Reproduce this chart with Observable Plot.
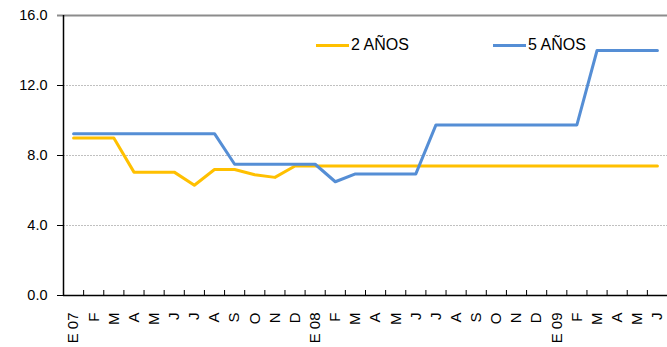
<!DOCTYPE html>
<html><head><meta charset="utf-8">
<script src="https://cdn.jsdelivr.net/npm/d3@7"></script>
<script src="https://cdn.jsdelivr.net/npm/@observablehq/plot@0.6"></script>
<style>
body{margin:0;background:#fff;}
#wrap{position:relative;width:667px;height:347px;font-family:"Liberation Sans",Arial,sans-serif;}
#wrap svg{display:block;}
.legend{position:absolute;top:36px;display:flex;align-items:center;font-size:16px;color:#000;font-family:"Liberation Sans",Arial,sans-serif;white-space:nowrap;}
.legend .sw{display:inline-block;width:33px;height:3px;margin-right:2px;}
</style></head><body><div id="wrap"></div>
<script>
const months = ["E 07","F","M","A","M","J","J","A","S","O","N","D","E 08","F","M","A","M","J","J","A","S","O","N","D","E 09","F","M","A","M","J"];
const seriesNames = ["2 AÑOS","5 AÑOS"];
const values2 = [9.0,9.0,9.0,7.05,7.05,7.05,6.3,7.2,7.2,6.9,6.75,7.4,7.4,7.4,7.4,7.4,7.4,7.4,7.4,7.4,7.4,7.4,7.4,7.4,7.4,7.4,7.4,7.4,7.4,7.4];
const values5 = [9.25,9.25,9.25,9.25,9.25,9.25,9.25,9.25,7.5,7.5,7.5,7.5,7.5,6.5,6.95,6.95,6.95,6.95,9.75,9.75,9.75,9.75,9.75,9.75,9.75,9.75,14.0,14.0,14.0,14.0];
const yTicks = [0,4,8,12,16];
const colors = ["#FFC000","#558ED5"];

const W = 667, H = 347, mL = 63, mR = 0, mT = 15, mB = 52;
const plotH = H - mT - mB;

const data = [];
[values2, values5].forEach((vals, s) => vals.forEach((v, i) => data.push({series: seriesNames[s], x: i + 0.5, value: v})));
const centers = months.map((_, i) => i + 0.5);
const bounds = d3.range(1, months.length + 1);

const chart = Plot.plot({
  width: W, height: H,
  marginLeft: mL, marginRight: mR, marginTop: mT, marginBottom: mB,
  style: {fontFamily: '"Liberation Sans", Arial, sans-serif', color: "#000", background: "#fff"},
  x: {domain: [0, months.length], axis: null},
  y: {domain: [0, 16], axis: null},
  color: {domain: seriesNames, range: colors},
  marks: [
    Plot.ruleY([4, 8, 12], {stroke: "#c0c0c0", strokeDasharray: "2,1", strokeWidth: 1}),
    Plot.axisY({ticks: yTicks, tickSize: 6, tickPadding: 10, tickFormat: d3.format(".1f"), fontSize: 14.5, stroke: "#000", label: null}),
    Plot.ruleY([16], {stroke: "#8c8c8c", strokeWidth: 2, insetLeft: -6}),
    Plot.tickX(bounds, {x: d => d, stroke: "#000", insetTop: plotH - 5}),
    Plot.text(centers, {x: d => d, text: d => months[Math.floor(d)], frameAnchor: "bottom", rotate: -90, textAnchor: "end", lineAnchor: "middle", dy: 17, fontSize: 15, fill: "#000"}),
    Plot.line(data, {x: "x", y: "value", z: "series", stroke: "series", strokeWidth: 3, strokeLinejoin: "round", strokeLinecap: "round"}),
    Plot.ruleX([0], {stroke: "#000", strokeWidth: 1.5}),
    Plot.ruleY([0], {stroke: "#000", strokeWidth: 1.5})
  ]
});
const wrap = document.getElementById("wrap");
wrap.appendChild(chart);

const legendLeft = [316, 493];
seriesNames.forEach((name, s) => {
  const d = document.createElement("div");
  d.className = "legend";
  d.style.left = legendLeft[s] + "px";
  d.innerHTML = `<span class="sw" style="background:${colors[s]}"></span><span>${name}</span>`;
  wrap.appendChild(d);
});
</script></body></html>
